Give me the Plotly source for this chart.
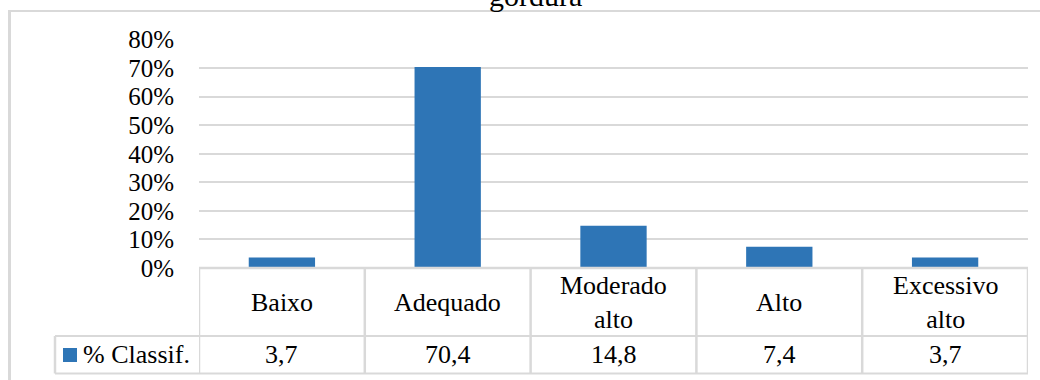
import plotly.graph_objects as go

# Classification of body-fat percentage
categories = ["Baixo", "Adequado", "Moderado alto", "Alto", "Excessivo alto"]
category_labels = ["Baixo", "Adequado", "Moderado<br>alto", "Alto", "Excessivo<br>alto"]
pct_classif = [3.7, 70.4, 14.8, 7.4, 3.7]
series_name = "% Classif."
title_text = "gordura"
tick_values = [0, 0.1, 0.2, 0.3, 0.4, 0.5, 0.6, 0.7, 0.8]

W, H = 1040, 380
BAR_COLOR = "#2E75B6"
LINE_COLOR = "#D9D9D9"
FONT = "Liberation Serif, Times New Roman, serif"


def px_x(p):
    return p / W


def px_y(p):
    return 1 - p / H


plot_left, plot_right = 199, 1028
y_zero, y_top = 268, 39.5
row1_bottom, row2_bottom = 336, 373.5
legend_left = 55

fig = go.Figure(
    go.Bar(
        x=categories,
        y=[v / 100 for v in pct_classif],
        marker=dict(color=BAR_COLOR, line=dict(width=0)),
        name=series_name,
        showlegend=False,
    )
)

shapes = []


def hline(y, x0, x1, width=2, xref="paper"):
    shapes.append(dict(type="line", xref=xref, yref="paper", x0=x0, x1=x1,
                       y0=px_y(y), y1=px_y(y),
                       line=dict(color=LINE_COLOR, width=width)))


def vline(x, y0, y1, width=2, xref="paper"):
    shapes.append(dict(type="line", xref=xref, yref="paper", x0=x, x1=x,
                       y0=px_y(y0), y1=px_y(y1),
                       line=dict(color=LINE_COLOR, width=width)))


# outer chart frame (left and top edges)
vline(px_x(9.5), 10, H + 5, width=3)
hline(11, px_x(8), px_x(W + 5), width=2)

# data table grid
n = len(categories)
hline(y_zero, -0.5, n - 0.5, width=2.5, xref="x")
hline(row1_bottom, px_x(legend_left), px_x(plot_right), width=2)
hline(row2_bottom, px_x(legend_left), px_x(plot_right), width=2)
for i in range(n + 1):
    vline(i - 0.5, y_zero, row2_bottom, width=2.5, xref="x")
vline(px_x(legend_left), row1_bottom, row2_bottom, width=2.5)

# legend key in the table
shapes.append(dict(type="rect", xref="paper", yref="paper",
                   x0=px_x(63), x1=px_x(77), y0=px_y(362), y1=px_y(348),
                   fillcolor=BAR_COLOR, line=dict(width=0)))

annotations = []
row1_mid = (y_zero + row1_bottom) / 2
row2_mid = (row1_bottom + row2_bottom) / 2 - 0.5
for i, (lab, v) in enumerate(zip(category_labels, pct_classif)):
    annotations.append(dict(x=categories[i], xref="x", y=px_y(row1_mid), yref="paper",
                            text=lab, showarrow=False, yanchor="middle", xanchor="center",
                            font=dict(family=FONT, size=26, color="#000000")))
    annotations.append(dict(x=categories[i], xref="x", y=px_y(row2_mid), yref="paper",
                            text=f"{v:.1f}".replace(".", ","), showarrow=False,
                            yanchor="middle", xanchor="center",
                            font=dict(family=FONT, size=26, color="#000000")))

annotations.append(dict(x=px_x(81), xref="paper", y=px_y(row2_mid), yref="paper",
                        text=series_name, showarrow=False, xanchor="left", yanchor="middle",
                        font=dict(family=FONT, size=26, color="#000000")))

# chart title, partly above the visible area
annotations.append(dict(x=px_x(535), xref="paper", y=px_y(14), yref="paper",
                        text=title_text, showarrow=False, xanchor="center", yanchor="bottom",
                        font=dict(family=FONT, size=30, color="#000000")))

fig.update_layout(
    template="none",
    width=W,
    height=H,
    margin=dict(l=0, r=0, t=0, b=0, pad=0, autoexpand=False),
    paper_bgcolor="white",
    plot_bgcolor="white",
    bargap=0.6,
    showlegend=False,
    font=dict(family=FONT, size=25, color="#000000"),
    xaxis=dict(domain=[px_x(plot_left), px_x(plot_right)], range=[-0.5, n - 0.5],
               showticklabels=False, showgrid=False, zeroline=False, showline=False,
               ticks="", automargin=False),
    yaxis=dict(domain=[px_y(y_zero), px_y(y_top)], range=[0, 0.8],
               tickvals=tick_values, tickformat=".0%",
               showgrid=True, gridcolor=LINE_COLOR, gridwidth=2,
               zeroline=False, showline=False, ticks="", automargin=False,
               ticklabelstandoff=24,
               tickfont=dict(family=FONT, size=25, color="#000000")),
    shapes=shapes,
    annotations=annotations,
)

fig.write_html("out.html")
